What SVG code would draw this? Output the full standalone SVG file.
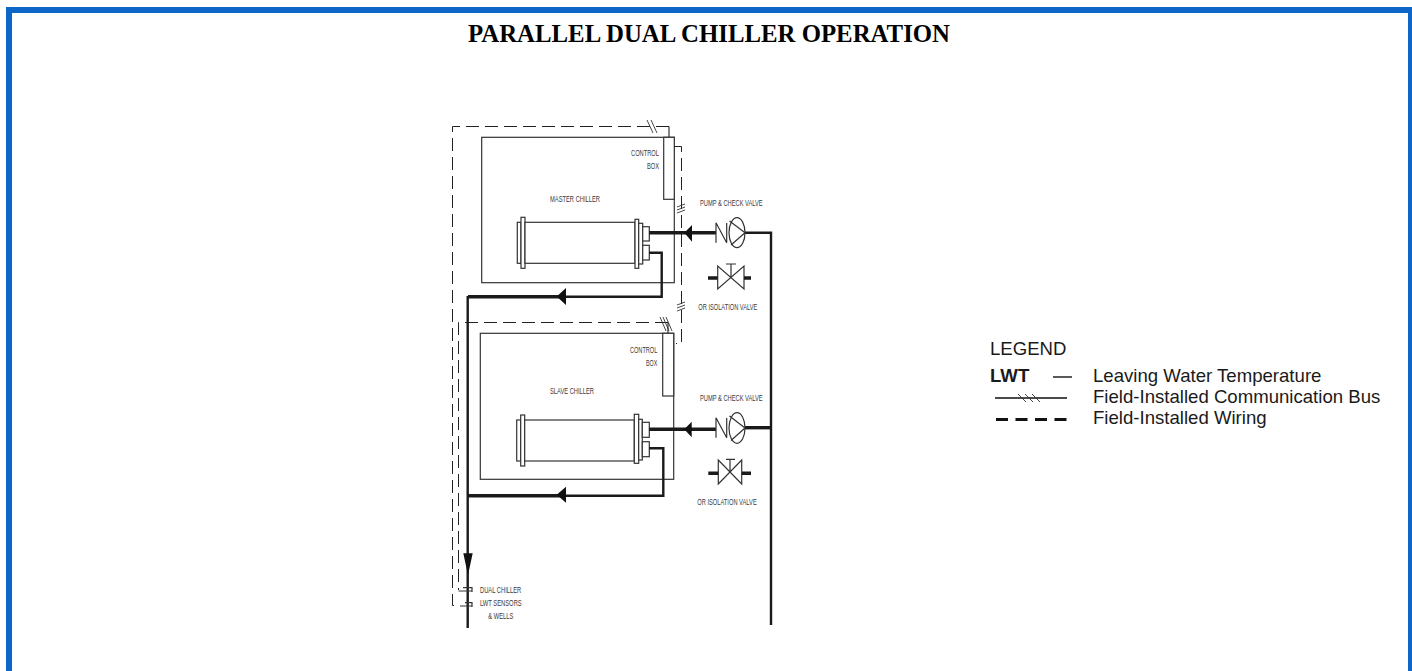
<svg xmlns="http://www.w3.org/2000/svg" width="1412" height="671" viewBox="0 0 1412 671">
<style>
.small{font-family:"Liberation Sans",Arial,sans-serif;font-size:9.500px;fill:#3a3a3a}
.leg{font-family:"Liberation Sans",Arial,sans-serif;font-size:18.600px;fill:#1a1a1a}
.thin{fill:none;stroke:#333;stroke-width:1.200}
.hair{fill:none;stroke:#333;stroke-width:0.900}
.box{fill:#fff;stroke:#333;stroke-width:1.200}
.pipe{fill:none;stroke:#1a1a1a;stroke-width:3.400}
.pipe2{fill:none;stroke:#1a1a1a;stroke-width:2.400}
.dash{fill:none;stroke:#222;stroke-width:1;stroke-dasharray:13 6}
.ar{fill:#111}
</style>
<rect x="6" y="7" width="6" height="664" fill="#0d66c8"/>
<rect x="6" y="7" width="1406" height="6" fill="#0d66c8"/>
<rect x="1408" y="7" width="4" height="664" fill="#0d66c8"/>
<text x="709" y="42" text-anchor="middle" font-family="'Liberation Serif',serif" font-weight="bold" font-size="25" fill="#000" textLength="482" lengthAdjust="spacingAndGlyphs">PARALLEL DUAL CHILLER OPERATION</text>
<g id="master-chiller">
<rect class="box" x="481.700" y="137.300" width="192.600" height="145.400"/>
<rect class="box" x="663.700" y="137.300" width="10.600" height="62"/>
<text class="small" x="631" y="155.700" textLength="28" lengthAdjust="spacingAndGlyphs">CONTROL</text>
<text class="small" x="647" y="169" textLength="12" lengthAdjust="spacingAndGlyphs">BOX</text>
<text class="small" x="550" y="202" textLength="50" lengthAdjust="spacingAndGlyphs">MASTER CHILLER</text>
<rect class="box" x="517.300" y="222.300" width="3.700" height="41"/>
<rect class="box" x="521" y="217.300" width="4" height="51"/>
<rect class="box" x="525" y="222.300" width="110" height="41"/>
<rect class="box" x="635" y="219.300" width="3.700" height="49"/>
<rect class="box" x="638.700" y="223.300" width="4" height="40.700"/>
<rect class="box" x="642.700" y="226.700" width="6.600" height="14.300"/>
<rect class="box" x="642.700" y="245.300" width="6.600" height="14.700"/>
</g>
<g id="slave-chiller">
<rect class="box" x="480.300" y="333.300" width="193.400" height="146"/>
<rect class="box" x="662.700" y="333.300" width="11" height="62.700"/>
<text class="small" x="630" y="352.700" textLength="27.300" lengthAdjust="spacingAndGlyphs">CONTROL</text>
<text class="small" x="646" y="365.700" textLength="11.300" lengthAdjust="spacingAndGlyphs">BOX</text>
<text class="small" x="550" y="393.700" textLength="44" lengthAdjust="spacingAndGlyphs">SLAVE CHILLER</text>
<rect class="box" x="516.700" y="420" width="4" height="41"/>
<rect class="box" x="520.700" y="415" width="4" height="51"/>
<rect class="box" x="524.700" y="420" width="109.600" height="41"/>
<rect class="box" x="634.300" y="414.300" width="4.400" height="49"/>
<rect class="box" x="638.700" y="419.300" width="3.600" height="40.700"/>
<rect class="box" x="642.300" y="422.300" width="7" height="15"/>
<rect class="box" x="642.300" y="441.700" width="7" height="15"/>
</g>
<g id="connectors">
<path class="dash" d="M669 126.500H452.500V605.500H457"/>
<path class="thin" d="M669 126.500V137"/>
<path class="dash" d="M674 146.500H681.500V343.500H676"/>
<path class="dash" d="M668 322.500H458.500V590"/>
<path class="thin" d="M668 322.500V333"/>
<path class="hair" d="M647 120l6 13M651 120l6 13M660 317l6 14M663 317l6 14M666 317l6 14"/>
<path class="hair" d="M677 207l8 -3M677 210l8 -3M677 213l8 -3M677 305l8 -3M677 308l8 -3M677 311l8 -3"/>
<path class="pipe" d="M649 232.700H716"/>
<path class="pipe2" d="M745 232.700H771V625"/>
<path class="pipe" d="M649 429.300H716"/>
<path class="pipe" d="M745 427.700H771"/>
<path class="pipe2" d="M649 252.700H661.700V296.700H566"/>
<path class="pipe" d="M566 296.700H468"/>
<path class="pipe2" d="M649 448.300H663.300V495.700H566"/>
<path class="pipe" d="M566 495.700H468"/>
<path class="pipe2" d="M467.700 296V628"/>
<path class="ar" d="M684.300 232.700l7.700-7.700v16.700zM556.700 296.500l9.300-8.500v17zM684.300 429.300l7.400-7.600v15.600zM556.700 494.700l9.300-8v16zM463.300 553.300h9.400l-4.700 21.700z"/>
</g>
<g id="master-pump">
<text class="small" x="700" y="206" textLength="62.700" lengthAdjust="spacingAndGlyphs">PUMP &amp; CHECK VALVE</text>
<path class="thin" d="M716 222.700V242.700M716 222.700L726.700 242.700V223"/>
<ellipse class="thin" cx="737" cy="232.700" rx="8" ry="15"/>
<path class="thin" d="M745 232.700L729.500 221M745 232.700L731 245"/>
</g>
<g id="master-valve">
<path class="thin" d="M717.700 266V289L744 266V289ZM731 277.700V264M726 264H736"/>
<path class="pipe" d="M708 278H717.700M744 278H751"/>
<text class="small" x="698.300" y="310" textLength="59" lengthAdjust="spacingAndGlyphs">OR ISOLATION VALVE</text>
</g>
<g id="slave-pump">
<text class="small" x="700" y="401" textLength="62.700" lengthAdjust="spacingAndGlyphs">PUMP &amp; CHECK VALVE</text>
<path class="thin" d="M716 417.700V437.700M716 417.700L726.700 437.700V418"/>
<ellipse class="thin" cx="737" cy="428" rx="8" ry="15.300"/>
<path class="thin" d="M745 428L729.500 416M745 428L731 440.500"/>
</g>
<g id="slave-valve">
<path class="thin" d="M718.300 460V484L741.700 460V484ZM730 472.300V459.300M726 459.300H735"/>
<path class="pipe" d="M708.300 473.300H718.300M741.700 473.300H751"/>
<text class="small" x="697.300" y="505.300" textLength="59.400" lengthAdjust="spacingAndGlyphs">OR ISOLATION VALVE</text>
</g>
<g id="lwt-sensors">
<path class="thin" d="M463 587.700H472M458.500 591H472M472 587V592M465 602.700H472M460 606H472M472 602V607"/>
<text class="small" x="480" y="593.300" textLength="41.300" lengthAdjust="spacingAndGlyphs">DUAL CHILLER</text>
<text class="small" x="480" y="606" textLength="41.700" lengthAdjust="spacingAndGlyphs">LWT SENSORS</text>
<text class="small" x="488.300" y="618.700" textLength="25" lengthAdjust="spacingAndGlyphs">&amp; WELLS</text>
</g>
<g id="legend">
<text class="leg" x="990" y="355">LEGEND</text>
<text class="leg" x="990" y="382" font-weight="bold">LWT</text>
<path d="M1053 377H1072" stroke="#222" stroke-width="1.500"/>
<text class="leg" x="1093" y="382">Leaving Water Temperature</text>
<path d="M995 398H1067" stroke="#111" stroke-width="1.500"/>
<path class="hair" d="M1018 394l8 8M1025 394l8 8M1032 394l8 8"/>
<text class="leg" x="1093" y="403">Field-Installed Communication Bus</text>
<path d="M996 419.500H1067" stroke="#111" stroke-width="3" stroke-dasharray="12 7.500"/>
<text class="leg" x="1093" y="424">Field-Installed Wiring</text>
</g>
</svg>
